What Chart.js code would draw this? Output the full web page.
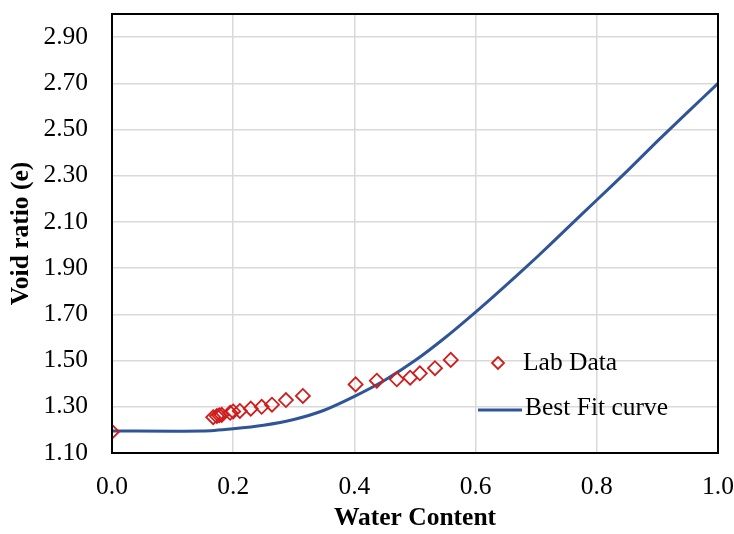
<!DOCTYPE html>
<html>
<head>
<meta charset="utf-8">
<script src="https://cdn.jsdelivr.net/npm/chart.js@4"></script>
<style>
  html, body { margin: 0; padding: 0; background: #fff; }
  #wrap { position: relative; width: 734px; height: 534px; }
  .leg { position: absolute; font-family: "Liberation Serif", "Times New Roman", serif; font-size: 25.5px; color: #000; white-space: nowrap; line-height: 28px; }
</style>
</head>
<body>
<div id="wrap">
  <canvas id="chart" width="734" height="534"></canvas>
  <div class="leg" style="left:489px; top:348px;">
    <svg width="20" height="20" style="vertical-align:middle; margin-right:14px;"><path d="M9 3 L15 9 L9 15 L3 9 Z" fill="none" stroke="#d01c1c" stroke-width="1.8"/></svg>Lab Data
  </div>
  <div class="leg" style="left:478px; top:393px;">
    <svg width="44" height="20" style="vertical-align:middle; margin-right:3px;"><line x1="0" y1="11" x2="44" y2="11" stroke="#2f5597" stroke-width="3"/></svg>Best Fit curve
  </div>
</div>
<script>
document.addEventListener('DOMContentLoaded', () => {
    // Lab data (water content vs void ratio)
    const labWater = [0.0, 0.167, 0.173, 0.177, 0.181, 0.195, 0.200, 0.211, 0.229, 0.247, 0.264, 0.287, 0.315, 0.402, 0.437, 0.470, 0.492, 0.508, 0.533, 0.559];
    const labVoid  = [1.192, 1.255, 1.260, 1.263, 1.265, 1.274, 1.280, 1.282, 1.292, 1.300, 1.309, 1.329, 1.347, 1.397, 1.413, 1.419, 1.426, 1.445, 1.467, 1.503];

    // Best fit curve
    const fitWater = [0.0, 0.15, 0.2, 0.25, 0.3, 0.35, 0.4, 0.45, 0.5, 0.55, 0.6, 0.65, 0.7, 0.75, 0.8, 0.85, 0.9, 0.95, 1.0];
    const fitVoid  = [1.195, 1.195, 1.205, 1.22, 1.245, 1.285, 1.345, 1.415, 1.50, 1.60, 1.71, 1.825, 1.945, 2.07, 2.195, 2.32, 2.45, 2.575, 2.70];

    // Tick labels
    const xTicks = [0.0, 0.2, 0.4, 0.6, 0.8, 1.0];
    const yTicks = [1.10, 1.30, 1.50, 1.70, 1.90, 2.10, 2.30, 2.50, 2.70, 2.90];

    const serif = '"Liberation Serif", "Times New Roman", serif';

    // draws the black box around the plot area
    const frame = {
        id: 'frame',
        afterDatasetsDraw(chart) {
            const a = chart.chartArea;
            const ctx = chart.ctx;
            ctx.save();
            ctx.strokeStyle = '#000';
            ctx.lineWidth = 2;
            ctx.strokeRect(a.left, a.top, a.right - a.left, a.bottom - a.top);
            ctx.restore();
        }
    };

    // no extra room for half labels at the axis ends
    const noPad = (s) => {
        s.paddingTop = 0;
        s.paddingBottom = 0;
        s.paddingLeft = 0;
        s.paddingRight = 0;
    };

    const ctx = document.getElementById('chart').getContext('2d');
    new Chart(ctx, {
        type: 'scatter',
        data: {
            datasets: [{
                label: 'Lab Data',
                data: labWater.map((x, i) => ({ x: x, y: labVoid[i] })),
                pointStyle: 'rectRot',
                pointRadius: 7,
                borderColor: '#d01c1c',
                backgroundColor: 'rgba(0,0,0,0)',
                pointBorderWidth: 1.8,
                showLine: false
            }, {
                label: 'Best Fit curve',
                data: fitWater.map((x, i) => ({ x: x, y: fitVoid[i] })),
                showLine: true,
                borderColor: '#2f5597',
                borderWidth: 3,
                pointRadius: 0,
                tension: 0.2
            }]
        },
        options: {
            responsive: false,
            animation: false,
            layout: { padding: { left: 0, right: 16, top: 14, bottom: 0 } },
            plugins: {
                legend: { display: false },
                tooltip: { enabled: false }
            },
            scales: {
                x: {
                    type: 'linear',
                    min: 0,
                    max: 1,
                    afterBuildTicks: (s) => { s.ticks = xTicks.map(v => ({ value: v })); },
                    afterFit: (s) => { s.height = 81; noPad(s); },
                    grid: { color: '#d9d9d9', lineWidth: 1.5, drawTicks: false },
                    border: { display: false },
                    ticks: {
                        padding: 19,
                        color: '#000',
                        font: { family: serif, size: 25.5 },
                        callback: (v) => Number(v).toFixed(1)
                    },
                    title: {
                        display: true,
                        text: 'Water Content',
                        color: '#000',
                        font: { family: serif, size: 25.5, weight: 'bold' },
                        padding: { top: 0, bottom: 0 }
                    }
                },
                y: {
                    type: 'linear',
                    min: 1.1,
                    max: 3.0,
                    afterBuildTicks: (s) => { s.ticks = yTicks.map(v => ({ value: v })); },
                    afterFit: (s) => { s.width = 112; noPad(s); },
                    grid: { color: '#d9d9d9', lineWidth: 1.5, drawTicks: false },
                    border: { display: false },
                    ticks: {
                        padding: 24,
                        color: '#000',
                        font: { family: serif, size: 25.5 },
                        callback: (v) => Number(v).toFixed(2)
                    },
                    title: {
                        display: true,
                        text: 'Void ratio (e)',
                        color: '#000',
                        font: { family: serif, size: 25.5, weight: 'bold' },
                        padding: { top: 6, bottom: 0 }
                    }
                }
            }
        },
        plugins: [frame]
    });
});
</script>
</body>
</html>
